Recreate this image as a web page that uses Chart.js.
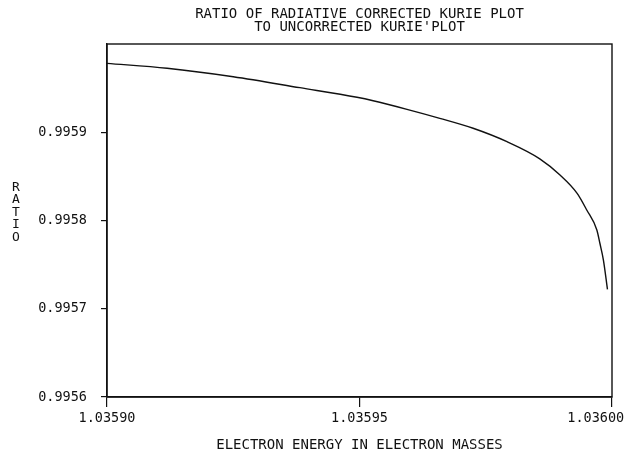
<!DOCTYPE html>
<html>
<head>
<meta charset="utf-8">
<script src="https://cdn.jsdelivr.net/npm/chart.js@4/dist/chart.umd.min.js"></script>
<style>
html,body{margin:0;padding:0;background:#fff;}
#wrap{width:627px;height:451px;}
</style>
</head>
<body>
<div id="wrap"><canvas id="c" width="627" height="451"></canvas></div>
<script>
const titleLines = ['RATIO OF RADIATIVE CORRECTED KURIE PLOT', "TO UNCORRECTED KURIE'PLOT"];
const xTitle = 'ELECTRON ENERGY IN ELECTRON MASSES';
const yTitle = 'RATIO';
const energy = [1.035900, 1.0359119, 1.0359250, 1.0359382, 1.0359495, 1.0359527, 1.0359594, 1.0359659,
  1.0359725, 1.0359792, 1.0359857, 1.0359897, 1.0359931, 1.0359950, 1.0359970, 1.0359976, 1.0359983, 1.0359991];
const ratio = [0.9959781, 0.9959725, 0.9959629, 0.9959505, 0.9959396, 0.9959357, 0.9959260, 0.9959158,
  0.9959045, 0.9958893, 0.9958699, 0.9958516, 0.9958308, 0.9958119, 0.9957892, 0.9957742, 0.9957552, 0.9957220];
const xTicks = [1.03590, 1.03595, 1.03600];
const xTickLabels = ['1.03590', '1.03595', '1.03600    '];
const yTicks = [0.9956, 0.9957, 0.9958, 0.9959];
const yTickLabels = ['0.9956', '0.9957', '0.9958', '0.9959'];

const FONT = "'DejaVu Sans Mono', monospace";
const INK = '#111';

const frame = {
  id: 'frame',
  afterDraw(chart) {
    const {ctx, chartArea: a} = chart;
    ctx.save();
    ctx.strokeStyle = INK;
    ctx.lineWidth = 1.4;
    ctx.strokeRect(a.left, a.top, a.right - a.left, a.bottom - a.top);
    // stacked vertical axis title
    ctx.fillStyle = INK;
    ctx.font = "13px " + FONT;
    ctx.textAlign = 'center';
    ctx.textBaseline = 'middle';
    const mid = (a.top + a.bottom) / 2 - 8;
    const step = 12.5;
    const n = yTitle.length;
    for (let i = 0; i < n; i++) {
      ctx.fillText(yTitle[i], 16, mid + (i - (n - 1) / 2) * step);
    }
    ctx.restore();
  }
};

new Chart(document.getElementById('c'), {
  type: 'line',
  data: {
    datasets: [{
      data: energy.map((x, i) => ({x: x, y: ratio[i]})),
      borderColor: INK,
      borderWidth: 1.4,
      pointRadius: 0,
      fill: false,
      cubicInterpolationMode: 'monotone'
    }]
  },
  options: {
    responsive: false,
    animation: false,
    events: [],
    layout: {padding: {left: 0, right: 15, top: 0, bottom: 0}},
    plugins: {
      legend: {display: false},
      tooltip: {enabled: false},
      title: {
        display: true,
        text: titleLines,
        fullSize: false,
        color: INK,
        font: {family: FONT, size: 14, weight: 'normal', lineHeight: '13px'},
        padding: {top: 8, bottom: 10}
      }
    },
    scales: {
      x: {
        type: 'linear',
        min: 1.03590,
        max: 1.03600,
        afterBuildTicks(s) { s.ticks = xTicks.map(v => ({value: v})); },
        afterFit(s) { s.height = 54; s.paddingLeft = 0; s.paddingRight = 0; },
        ticks: {
          color: INK,
          font: {family: FONT, size: 13.5},
          padding: 3,
          maxRotation: 0,
          autoSkip: false,
          callback: (v, i) => xTickLabels[i]
        },
        grid: {drawOnChartArea: false, drawTicks: true, tickLength: 10, color: INK, lineWidth: 1.2},
        border: {display: true, color: INK, width: 1.4},
        title: {
          display: true,
          text: xTitle,
          color: INK,
          font: {family: FONT, size: 14, lineHeight: '12px'},
          padding: {top: 0, bottom: 0}
        }
      },
      y: {
        type: 'linear',
        min: 0.9956,
        max: 0.9960,
        afterBuildTicks(s) { s.ticks = yTicks.map(v => ({value: v})); },
        afterFit(s) { s.width = 107; s.paddingTop = 0; s.paddingBottom = 0; },
        ticks: {
          color: INK,
          font: {family: FONT, size: 13.5},
          padding: 14,
          autoSkip: false,
          callback: (v, i) => yTickLabels[i]
        },
        grid: {drawOnChartArea: false, drawTicks: true, tickLength: 6, color: INK, lineWidth: 1.2},
        border: {display: true, color: INK, width: 1.4},
        title: {display: false}
      }
    }
  },
  plugins: [frame]
});
</script>
</body>
</html>
